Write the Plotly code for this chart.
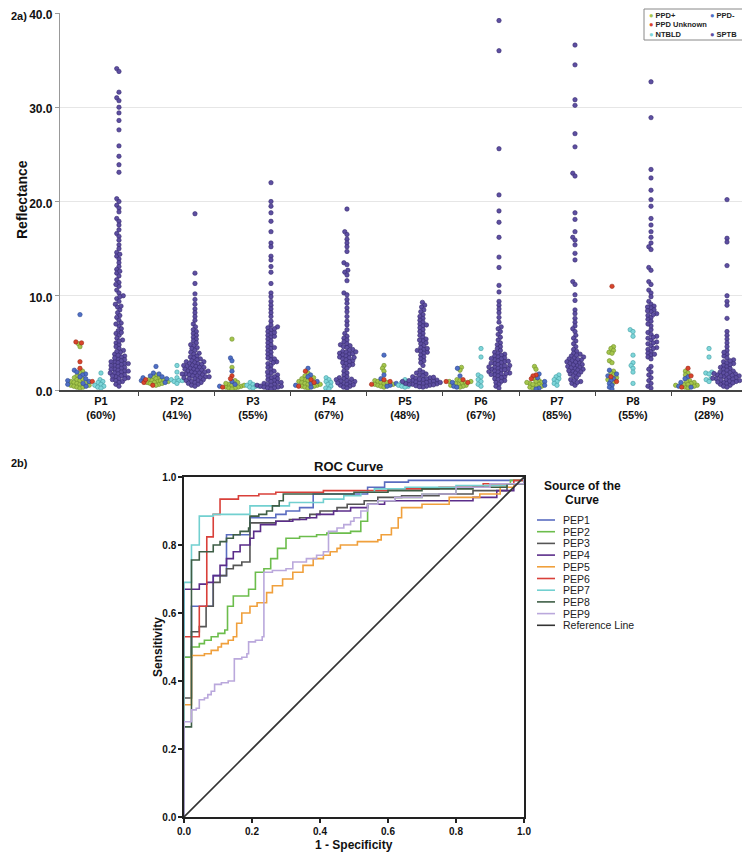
import math
import plotly.graph_objects as go

# The page body adds an 8px margin, so the figure is 8px smaller and every
# layout pixel coordinate below is measured on the 750x859 screenshot.
PAGE_PAD = 8
W, H = 750 - PAGE_PAD, 859 - PAGE_PAD
FONT = "Liberation Sans, Arial, sans-serif"

# ---------------- data: panel 2a ----------------
PEPTIDES = ["P1", "P2", "P3", "P4", "P5", "P6", "P7", "P8", "P9"]
PERCENTS = ["60%", "41%", "55%", "67%", "48%", "67%", "85%", "55%", "28%"]
Y_TICKS = [0, 10, 20, 30, 40]
Y_TICK_TEXT = ["0.0", "10.0", "20.0", "30.0", "40.0"]

PPD_POS = [
    [4.9, 4.6, 2.0, 1.8, 1.5, 1.3, 1.1, 1.0, 0.9, 0.8, 0.7, 0.6, 0.5, 0.4, 0.3, 0.2, 1.2, 0.8, 0.5, 0.3],
    [1.6, 1.4, 1.3, 1.2, 1.1, 1.0, 0.9, 0.9, 0.8, 0.8, 0.7, 0.6, 0.5, 1.0, 1.1, 0.7],
    [5.4, 2.4, 1.0, 0.8, 0.6, 0.5, 0.4, 0.3, 0.3, 0.2, 0.2, 0.1, 0.5, 0.7],
    [1.8, 1.5, 1.3, 1.1, 1.0, 0.9, 0.8, 0.7, 0.6, 0.5, 0.4, 0.3, 0.2, 0.6, 0.4, 1.2],
    [2.6, 2.3, 2.0, 1.0, 0.9, 0.8, 0.7, 0.6, 0.5, 0.4, 0.3, 0.6, 0.8],
    [2.4, 2.1, 1.1, 1.0, 0.9, 0.8, 0.7, 0.6, 0.5, 0.4, 0.3, 0.7, 0.5, 0.9],
    [2.5, 2.2, 1.2, 1.0, 0.9, 0.8, 0.7, 0.6, 0.5, 0.4, 0.3, 0.2, 0.8, 0.6],
    [4.6, 4.4, 4.2, 4.0, 3.9, 3.1, 2.9, 2.0, 1.8, 1.6, 1.3, 1.1, 0.8],
    [2.0, 1.8, 1.6, 1.0, 0.9, 0.8, 0.7, 0.6, 0.5, 0.4, 0.3, 0.2, 0.6, 0.5],
]
PPD_NEG = [
    [8.0, 2.1, 1.9, 1.7, 1.6, 1.4, 1.2, 1.0, 0.9, 0.6, 0.4, 0.7],
    [2.5, 1.8, 1.7, 1.5, 1.4, 1.2, 1.0, 0.8, 1.3],
    [3.4, 3.1, 2.0, 0.9, 0.4, 0.6],
    [2.3, 1.6, 1.4, 0.9, 0.7, 0.5, 0.3],
    [3.7, 1.6, 1.2, 0.7, 0.5, 0.4],
    [2.3, 1.5, 0.8, 0.4, 0.3],
    [1.7, 1.3, 0.9, 0.5, 0.2, 0.1],
    [2.1, 1.7, 1.5, 1.2, 1.0, 0.7, 0.5, 0.3, 0.1],
    [1.4, 1.2, 0.8, 0.4, 0.3],
]
PPD_UNK = [
    [5.1, 5.0, 3.0, 2.3, 0.9],
    [0.8, 0.5, 1.1],
    [1.5, 1.2, 0.3],
    [2.0, 1.1, 0.8, 0.4],
    [1.1, 0.9, 0.6],
    [1.1, 0.9, 0.8],
    [1.6, 1.5, 1.2],
    [11.0, 1.4, 0.9],
    [2.3, 1.5, 0.3],
]
NTBLD = [
    [1.8, 1.1, 0.9, 0.8, 0.6, 0.5, 0.4, 0.3, 0.2],
    [2.6, 1.9, 1.3, 1.1, 1.0, 1.0, 0.9, 0.7],
    [0.8, 0.6, 0.5, 0.4, 0.4, 0.3, 0.2],
    [1.3, 1.1, 0.9, 0.8, 0.6, 0.4, 0.2, 0.1],
    [1.1, 0.9, 0.8, 0.7, 0.5, 0.4, 0.4, 0.3],
    [4.4, 3.5, 1.6, 1.4, 1.1, 0.9, 0.6, 0.4],
    [1.6, 1.4, 1.2, 1.1, 0.9, 0.7, 0.5],
    [6.4, 6.2, 5.7, 3.7, 2.9, 2.6, 2.3, 1.9, 0.7],
    [4.4, 3.5, 1.9, 1.8, 1.7, 1.2, 1.1, 0.9],
]
SPTB = [
    [34.1, 33.8, 31.6, 31.0, 30.7, 30.0, 29.4, 28.6, 27.6, 25.9, 24.8, 23.9, 23.1, 20.3, 20.0, 19.6, 19.3,
     18.9, 18.2, 17.9, 17.5, 17.0, 16.6, 16.3, 15.9, 15.4, 15.0, 14.6, 14.2, 13.9, 13.5, 13.1, 12.8, 12.4,
     12.1, 11.7, 11.4, 11.0, 10.6, 10.3, 10.0, 9.7, 9.4, 9.1, 8.8, 8.5, 8.2, 7.9, 7.7, 7.4, 7.1, 6.8, 6.5,
     6.3, 6.0, 5.8, 5.5, 5.3, 5.0, 4.8, 4.6, 4.4, 4.2, 4.0, 3.8, 3.6, 3.5, 3.3, 3.2, 3.1, 3.0, 2.9, 2.8,
     2.7, 2.6, 2.5, 2.4, 2.3, 2.2, 2.1, 2.0, 1.9, 1.8, 1.7, 1.6, 1.5, 1.4, 1.3, 1.2, 1.1, 1.0, 0.9, 0.8,
     0.6, 0.4, 3.4, 3.0, 2.8, 2.6, 2.2, 2.0, 1.8, 1.5, 1.2, 3.7, 4.1, 5.2, 6.1, 7.0, 8.9, 9.9, 11.2, 12.6, 14.4],
    [18.7, 12.4, 11.3, 10.2, 9.6, 9.1, 8.6, 8.2, 7.8, 7.4, 7.0, 6.7, 6.4, 6.2, 6.0, 5.8, 5.6, 5.4, 5.2,
     5.0, 4.8, 4.7, 4.5, 4.4, 4.2, 4.0, 3.9, 3.8, 3.6, 3.5, 3.4, 3.3, 3.2, 3.1, 3.0, 3.0, 2.9, 2.8, 2.8,
     2.7, 2.6, 2.6, 2.5, 2.5, 2.4, 2.4, 2.3, 2.2, 2.2, 2.1, 2.1, 2.0, 2.0, 1.9, 1.9, 1.8, 1.8, 1.7, 1.7,
     1.6, 1.6, 1.5, 1.5, 1.4, 1.4, 1.3, 1.3, 1.2, 1.2, 1.1, 1.0, 1.0, 0.9, 0.8, 0.8, 0.7, 0.6, 0.5, 0.4],
    [22.0, 20.0, 19.5, 18.8, 17.9, 16.8, 15.6, 15.2, 14.2, 13.8, 13.1, 12.5, 11.3, 10.3, 9.9, 9.4, 9.0,
     8.6, 8.2, 7.8, 7.3, 6.9, 6.7, 6.6, 6.4, 6.2, 6.0, 5.8, 5.6, 5.4, 5.2, 5.0, 4.8, 4.6, 4.4, 4.2, 4.0,
     3.8, 3.6, 3.4, 3.2, 3.0, 2.8, 2.6, 2.4, 2.2, 2.0, 1.8, 1.6, 1.4, 1.3, 1.2, 1.1, 1.0, 0.9, 0.8, 0.8,
     0.7, 0.6, 0.6, 0.5, 0.5, 0.4, 0.4, 0.3, 0.3, 0.2, 0.2, 0.1, 5.7, 4.5, 3.3, 2.9, 6.1, 6.5, 1.5, 1.9],
    [19.2, 16.8, 16.5, 16.0, 15.6, 15.2, 14.7, 13.5, 13.3, 12.7, 12.5, 12.2, 11.6, 10.3, 10.1, 9.6, 9.2,
     8.7, 8.3, 7.8, 7.3, 6.9, 6.4, 6.0, 5.7, 5.5, 5.3, 5.1, 4.9, 4.8, 4.7, 4.6, 4.5, 4.3, 4.2, 4.1, 4.0,
     3.9, 3.8, 3.7, 3.6, 3.5, 3.4, 3.3, 3.2, 3.1, 3.0, 2.9, 2.8, 2.7, 2.6, 2.5, 2.3, 2.0, 1.8, 1.6, 1.4,
     1.3, 1.2, 1.1, 1.0, 0.9, 0.8, 0.7, 0.6, 0.5, 0.4, 0.3, 0.2, 1.15, 0.95, 0.75, 0.55, 3.85, 3.45, 4.05],
    [9.3, 9.0, 8.8, 8.5, 8.3, 8.0, 7.8, 7.6, 7.4, 7.2, 7.0, 6.8, 6.6, 6.4, 6.2, 6.0, 5.8, 5.6, 5.4, 5.2,
     5.0, 4.9, 4.7, 4.5, 4.3, 4.2, 4.1, 4.0, 3.9, 3.7, 3.5, 3.3, 3.1, 2.9, 2.6, 2.1, 1.9, 1.8, 1.7, 1.6,
     1.5, 1.4, 1.3, 1.2, 1.1, 1.0, 0.9, 0.8, 0.7, 0.6, 0.5, 0.4, 0.3, 1.25, 1.05, 0.85, 0.65, 0.45, 0.95,
     0.75, 0.55, 1.15, 1.35, 0.35, 0.6, 0.7, 0.8, 0.9, 1.0, 6.9, 5.3, 4.4],
    [39.2, 36.0, 25.6, 20.7, 19.0, 17.8, 16.2, 14.1, 13.0, 11.1, 10.4, 9.4, 9.0, 8.6, 8.2, 7.7, 7.2, 6.7,
     6.5, 6.2, 5.9, 5.6, 5.3, 5.0, 4.8, 4.6, 4.4, 4.2, 4.0, 3.9, 3.8, 3.7, 3.6, 3.5, 3.4, 3.3, 3.2, 3.1,
     3.0, 2.9, 2.8, 2.7, 2.6, 2.5, 2.4, 2.3, 2.2, 2.1, 2.0, 1.9, 1.8, 1.7, 1.6, 1.5, 1.4, 1.3, 1.2, 1.1,
     1.0, 0.9, 0.8, 0.6, 0.4, 0.2, 2.85, 2.55, 2.25, 1.95, 1.65, 3.35, 3.05, 2.45, 2.15, 1.75],
    [36.6, 34.5, 30.8, 30.2, 27.2, 25.8, 23.0, 22.7, 18.8, 18.1, 16.8, 16.2, 15.9, 15.4, 14.5, 13.8, 11.5,
     11.2, 10.1, 9.5, 8.5, 8.1, 7.6, 7.2, 6.8, 6.5, 6.2, 5.8, 5.5, 5.2, 4.9, 4.6, 4.3, 4.1, 3.9, 3.8, 3.6,
     3.5, 3.4, 3.3, 3.2, 3.1, 3.0, 2.9, 2.8, 2.7, 2.6, 2.5, 2.4, 2.3, 2.2, 2.1, 2.0, 1.9, 1.8, 1.7, 1.6,
     1.5, 1.3, 1.1, 0.9, 0.7, 0.5, 3.7, 3.25, 2.95, 2.65, 2.35, 2.05, 1.0, 0.8],
    [32.7, 28.9, 23.4, 22.5, 21.2, 20.2, 19.5, 18.2, 17.5, 16.8, 16.2, 15.6, 15.2, 14.9, 13.0, 12.7, 11.5,
     11.2, 10.6, 10.3, 9.9, 9.4, 9.1, 8.9, 8.7, 8.5, 8.3, 8.1, 7.9, 7.7, 7.5, 7.3, 6.1, 5.9, 5.7, 5.5,
     5.3, 5.1, 4.9, 4.7, 4.5, 4.3, 4.1, 3.9, 3.7, 3.5, 3.3, 2.5, 2.2, 1.9, 1.6, 1.3, 1.0, 0.7, 0.4, 0.2,
     8.8, 8.4, 8.0, 5.6, 5.0, 4.4, 3.8, 6.4, 6.8, 7.0],
    [20.2, 16.1, 15.7, 13.2, 10.0, 9.4, 9.0, 7.6, 6.2, 5.8, 5.4, 5.0, 4.6, 4.2, 3.8, 3.6, 3.4, 3.2, 3.0,
     2.8, 2.6, 2.5, 2.4, 2.3, 2.2, 2.1, 2.0, 1.9, 1.8, 1.7, 1.6, 1.5, 1.4, 1.3, 1.2, 1.1, 1.0, 0.9, 0.8,
     0.7, 0.6, 0.5, 0.4, 0.3, 1.85, 1.65, 1.45, 1.25, 1.05, 0.85, 1.75, 1.35, 0.95, 1.55, 1.15, 0.75, 2.7,
     2.9, 3.1, 4.0],
]

# ---------------- data: panel 2b (ROC) ----------------
ROC_NAMES = ["PEP1", "PEP2", "PEP3", "PEP4", "PEP5", "PEP6", "PEP7", "PEP8", "PEP9"]
ROC_FPR = [
    [0, 0, 0.022, 0.086, 0.125, 0.194, 0.27, 0.30, 0.34, 0.38, 0.54, 0.59, 0.66, 1],
    [0, 0, 0.022, 0.045, 0.06, 0.08, 0.10, 0.12, 0.128, 0.145, 0.19, 0.21, 0.235, 0.255, 0.275, 0.30, 0.34,
     0.39, 0.42, 0.49, 0.52, 0.54, 0.57, 0.62, 0.70, 0.80, 0.90, 0.96, 1],
    [0, 0, 0.022, 0.045, 0.065, 0.086, 0.106, 0.125, 0.145, 0.17, 0.194, 0.27, 0.31, 0.34, 0.37, 0.40, 0.45,
     0.48, 0.53, 0.57, 0.64, 0.75, 0.85, 0.95, 1],
    [0, 0, 0.045, 0.067, 0.086, 0.106, 0.125, 0.145, 0.165, 0.194, 0.205, 0.225, 0.27, 0.32, 0.36, 0.39,
     0.44, 0.49, 0.54, 0.59, 0.85, 0.92, 0.97, 1],
    [0, 0, 0.022, 0.06, 0.08, 0.10, 0.11, 0.13, 0.145, 0.155, 0.17, 0.194, 0.215, 0.243, 0.26, 0.29, 0.32,
     0.35, 0.38, 0.41, 0.43, 0.45, 0.46, 0.51, 0.57, 0.58, 0.61, 0.63, 0.64, 0.70, 0.78, 0.87, 0.93, 0.97, 1],
    [0, 0, 0.045, 0.067, 0.086, 0.106, 0.16, 0.22, 0.27, 0.41, 0.60, 0.75, 0.88, 0.97, 1],
    [0, 0, 0.022, 0.045, 0.086, 0.194, 0.31, 0.41, 0.47, 0.52, 0.56, 0.65, 0.80, 0.95, 1],
    [0, 0, 0.022, 0.045, 0.086, 0.106, 0.125, 0.145, 0.165, 0.19, 0.194, 0.22, 0.243, 0.26, 0.28, 0.292,
     0.50, 0.60, 0.70, 0.85, 0.95, 1],
    [0, 0, 0.022, 0.036, 0.045, 0.06, 0.07, 0.08, 0.09, 0.11, 0.13, 0.148, 0.17, 0.185, 0.19, 0.21, 0.23,
     0.235, 0.26, 0.30, 0.32, 0.36, 0.39, 0.41, 0.425, 0.45, 0.47, 0.49, 0.50, 0.52, 0.54, 0.57, 0.62,
     0.70, 0.80, 0.90, 1],
]
ROC_TPR = [
    [0, 0.47, 0.62, 0.71, 0.83, 0.88, 0.89, 0.90, 0.91, 0.95, 0.97, 0.985, 0.99, 1],
    [0, 0.47, 0.50, 0.51, 0.52, 0.53, 0.54, 0.55, 0.62, 0.65, 0.67, 0.72, 0.73, 0.76, 0.79, 0.82, 0.825,
     0.83, 0.835, 0.84, 0.87, 0.92, 0.93, 0.94, 0.95, 0.97, 0.98, 0.99, 1],
    [0, 0.35, 0.545, 0.56, 0.62, 0.69, 0.71, 0.73, 0.74, 0.75, 0.865, 0.87, 0.875, 0.88, 0.89, 0.90, 0.91,
     0.92, 0.93, 0.94, 0.945, 0.95, 0.96, 0.98, 1],
    [0, 0.67, 0.685, 0.69, 0.71, 0.74, 0.76, 0.78, 0.80, 0.82, 0.84, 0.86, 0.87, 0.875, 0.88, 0.89, 0.90,
     0.91, 0.92, 0.93, 0.94, 0.96, 0.98, 1],
    [0, 0.33, 0.475, 0.48, 0.49, 0.50, 0.51, 0.52, 0.53, 0.57, 0.60, 0.62, 0.63, 0.66, 0.68, 0.70, 0.72,
     0.74, 0.76, 0.77, 0.78, 0.79, 0.80, 0.81, 0.815, 0.83, 0.85, 0.88, 0.91, 0.92, 0.94, 0.95, 0.97, 0.98, 1],
    [0, 0.53, 0.62, 0.824, 0.89, 0.935, 0.945, 0.95, 0.955, 0.96, 0.965, 0.97, 0.98, 0.99, 1],
    [0, 0.69, 0.80, 0.885, 0.89, 0.915, 0.925, 0.935, 0.945, 0.955, 0.965, 0.97, 0.975, 0.98, 1],
    [0, 0.265, 0.756, 0.78, 0.80, 0.81, 0.82, 0.83, 0.84, 0.85, 0.885, 0.89, 0.90, 0.915, 0.93, 0.95,
     0.955, 0.96, 0.965, 0.97, 0.98, 1],
    [0, 0.28, 0.315, 0.32, 0.345, 0.35, 0.36, 0.37, 0.39, 0.395, 0.40, 0.465, 0.47, 0.48, 0.515, 0.52, 0.53,
     0.72, 0.725, 0.73, 0.75, 0.76, 0.77, 0.78, 0.84, 0.85, 0.86, 0.87, 0.88, 0.90, 0.92, 0.93, 0.94,
     0.95, 0.97, 0.98, 1],
]
ROC_TICKS = [0, 0.2, 0.4, 0.6, 0.8, 1.0]
ROC_TICK_TEXT = ["0.0", "0.2", "0.4", "0.6", "0.8", "1.0"]

# ---------------- styles ----------------
C_POS, C_POS_L = "#a5c64c", "#6f8f2a"
C_NEG, C_NEG_L = "#4f6fc6", "#2f4a92"
C_UNK, C_UNK_L = "#d9442c", "#9a2a18"
C_NTB, C_NTB_L = "#7fd6da", "#3f9ea3"
C_SPT, C_SPT_L = "#5e4fa2", "#352a6e"
ROC_COLORS = ["#5a6cc0", "#6cbd4c", "#555555", "#5b2d8a", "#f0a03c", "#d9403a", "#72d0d0", "#3e5e46", "#baa8dc"]

# top-panel geometry (screenshot pixels)
TOP_L, TOP_R, TOP_T, TOP_B = 60, 742, 13, 390
X_MIN, X_MAX = -0.539, 8.434
XPX = (TOP_R - TOP_L) / (X_MAX - X_MIN)
YPX = (TOP_B - TOP_T) / 40.0
OFF_PPD, OFF_SPT = -21 / XPX, 18 / XPX


def swarm(vals, center, d):
    order = sorted(range(len(vals)), key=lambda i: vals[i])
    placed = []
    xs = [0.0] * len(vals)
    for i in order:
        y = vals[i] * YPX
        near = [p for p in placed if abs(p[1] - y) < d]
        cands = [0.0]
        for px_, py_ in near:
            dx = math.sqrt(max(d * d - (y - py_) ** 2, 0))
            cands += [px_ + dx, px_ - dx]
        cands.sort(key=lambda c: (abs(c), c))
        best = cands[-1]
        for c in cands:
            if all((c - px_) ** 2 + (y - py_) ** 2 >= d * d - 1e-6 for px_, py_ in near):
                best = c
                break
        placed.append((best, y))
        xs[i] = center + best / XPX
    return xs


fig = go.Figure()

px_pos, py_pos, px_neg, py_neg, px_unk, py_unk = [], [], [], [], [], []
px_ntb, py_ntb, px_spt, py_spt = [], [], [], []
for k in range(9):
    allv = PPD_POS[k] + PPD_NEG[k] + PPD_UNK[k]
    xs = swarm(allv, k + OFF_PPD, 3.2)
    a, b = len(PPD_POS[k]), len(PPD_NEG[k])
    px_pos += xs[:a]; py_pos += PPD_POS[k]
    px_neg += xs[a:a + b]; py_neg += PPD_NEG[k]
    px_unk += xs[a + b:]; py_unk += PPD_UNK[k]
    px_ntb += swarm(NTBLD[k], k, 3.4); py_ntb += NTBLD[k]
    px_spt += swarm(SPTB[k], k + OFF_SPT, 3.6); py_spt += SPTB[k]

MS = 4.4
for name, xs, ys, c, lc in [
    ("PPD+", px_pos, py_pos, C_POS, C_POS_L),
    ("PPD-", px_neg, py_neg, C_NEG, C_NEG_L),
    ("PPD Unknown", px_unk, py_unk, C_UNK, C_UNK_L),
    ("NTBLD", px_ntb, py_ntb, C_NTB, C_NTB_L),
    ("SPTB", px_spt, py_spt, C_SPT, C_SPT_L),
]:
    fig.add_trace(go.Scatter(x=xs, y=ys, mode="markers", name=name, showlegend=False,
                             marker=dict(size=MS, color=c, line=dict(color=lc, width=0.6)),
                             xaxis="x", yaxis="y", cliponaxis=False))

for k in range(9):
    fig.add_trace(go.Scatter(x=ROC_FPR[k], y=ROC_TPR[k], mode="lines", name=ROC_NAMES[k],
                             line=dict(color=ROC_COLORS[k], width=1.6, shape="hv"),
                             showlegend=False, xaxis="x2", yaxis="y2"))
fig.add_trace(go.Scatter(x=[0, 1], y=[0, 1], mode="lines", name="Reference Line",
                         line=dict(color="#333333", width=1.6), showlegend=False,
                         xaxis="x2", yaxis="y2"))


def px2x(p):
    return (p - PAGE_PAD) / W


def px2y(p):
    return 1 - (p - PAGE_PAD) / H


bold = lambda s, c="#111": dict(family=FONT, size=s, color=c, weight="bold")

fig.update_layout(
    template="none",
    width=W, height=H, autosize=False,
    margin=dict(l=0, r=0, t=0, b=0, pad=0),
    paper_bgcolor="white", plot_bgcolor="white",
    font=dict(family=FONT, color="#111"),
    xaxis=dict(domain=[px2x(TOP_L), px2x(TOP_R)], range=[X_MIN, X_MAX], anchor="y", automargin=False,
               tickvals=list(range(9)),
               ticktext=[f"{p}<br>({q})" for p, q in zip(PEPTIDES, PERCENTS)],
               tickfont=bold(11), ticks="", showgrid=False, zeroline=False,
               showline=True, linecolor="#444", linewidth=1.5,
               minor=dict(tickvals=[k + 0.5 for k in range(8)], ticks="outside",
                          ticklen=4, tickcolor="#444", tickwidth=1, showgrid=False)),
    yaxis=dict(domain=[px2y(TOP_B), px2y(TOP_T)], range=[0, 40], anchor="x", automargin=False,
               tickvals=Y_TICKS, ticktext=Y_TICK_TEXT, tickfont=bold(12),
               ticklabeloverflow="allow", ticklabelshift=2,
               showgrid=True, gridcolor="#e6e6e6", gridwidth=1, zeroline=False,
               showline=True, linecolor="#999", linewidth=1.2,
               ticks="outside", ticklen=4, tickcolor="#999"),
    xaxis2=dict(domain=[px2x(184), px2x(524)], range=[0, 1], anchor="y2", automargin=False,
                tickvals=ROC_TICKS, ticktext=ROC_TICK_TEXT, tickfont=bold(10),
                showgrid=False, zeroline=False, showline=True, mirror=True,
                linecolor="#222", linewidth=1.5, ticks="outside", ticklen=4,
                tickcolor="#222", tickwidth=1.5),
    yaxis2=dict(domain=[px2y(817), px2y(477)], range=[0, 1], anchor="x2", automargin=False,
                tickvals=ROC_TICKS, ticktext=ROC_TICK_TEXT, tickfont=bold(10),
                showgrid=False, zeroline=False, showline=True, mirror=True,
                linecolor="#222", linewidth=1.5, ticks="outside", ticklen=4,
                tickcolor="#222", tickwidth=1.5),
)

anns = []


def ann(text, x, y, font, xanchor="center", yanchor="middle", angle=0):
    anns.append(dict(text=text, x=px2x(x), y=px2y(y), xref="paper", yref="paper",
                     showarrow=False, font=font, xanchor=xanchor, yanchor=yanchor,
                     textangle=angle))


ann("2a)", 9, 16, bold(11), xanchor="left")
ann("2b)", 9, 463, bold(11), xanchor="left")
ann("Reflectance", 22, 200, bold(14), angle=-90)
ann("ROC Curve", 348, 467, bold(13))
ann("Sensitivity", 158, 647, bold(12), angle=-90)
ann("1 - Specificity", 354, 845, bold(12))
ann("Source of the", 582, 486, bold(12))
ann("Curve", 582, 500, bold(12))

shapes = []
# top legend
shapes.append(dict(type="rect", xref="paper", yref="paper", x0=px2x(644), x1=px2x(747),
                   y0=px2y(40), y1=px2y(9), line=dict(color="#888", width=1), fillcolor="white"))
for name, c, x, y in [("PPD+", C_POS, 647, 15), ("PPD-", C_NEG, 708, 15),
                      ("PPD Unknown", C_UNK, 647, 24.5), ("NTBLD", C_NTB, 647, 34),
                      ("SPTB", C_SPT, 708, 34)]:
    ann(f'<span style="color:{c}">●</span> {name}', x, y, bold(7.5, "#222"), xanchor="left")

# ROC legend
leg_names = ROC_NAMES + ["Reference Line"]
leg_cols = ROC_COLORS + ["#333333"]
for i, (n, c) in enumerate(zip(leg_names, leg_cols)):
    y = 520 + i * 11.7
    shapes.append(dict(type="line", xref="paper", yref="paper", x0=px2x(537), x1=px2x(555),
                       y0=px2y(y), y1=px2y(y), line=dict(color=c, width=1.6)))
    ann(n, 561, y, dict(family=FONT, size=10.5, color="#222"), xanchor="left")

fig.update_layout(annotations=anns, shapes=shapes)
fig.write_html("out.html")
